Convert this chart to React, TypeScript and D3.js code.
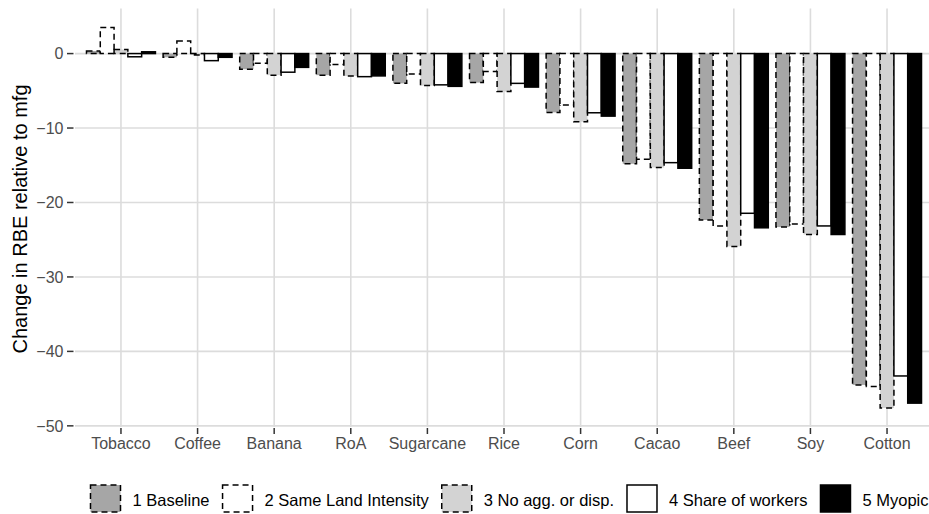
import React, { useRef, useEffect } from "react";
import { select, scaleBand, scaleLinear, min, max, range } from "d3";

// crops, in plot order
const categories = ["Tobacco", "Coffee", "Banana", "RoA", "Sugarcane", "Rice", "Corn", "Cacao", "Beef", "Soy", "Cotton"];
const seriesNames = ["1 Baseline", "2 Same Land Intensity", "3 No agg. or disp.", "4 Share of workers", "5 Myopic"];

// change in RBE relative to mfg
const baseline = [0.35, -0.5, -2.1, -2.9, -4.0, -3.9, -7.9, -14.8, -22.35, -23.3, -44.5];
const sameLand = [3.5, 1.7, -1.3, -1.45, -2.75, -2.4, -6.9, -14.2, -23.15, -22.9, -44.7];
const noAgg = [0.55, -0.2, -2.9, -3.0, -4.3, -5.1, -9.15, -15.3, -25.9, -24.3, -47.6];
const shareWorkers = [-0.43, -0.95, -2.5, -3.1, -4.2, -4.0, -7.95, -14.65, -21.45, -23.15, -43.3];
const myopic = [0.24, -0.5, -1.85, -3.0, -4.4, -4.5, -8.4, -15.4, -23.4, -24.3, -46.95];

const yTicks = [0, -10, -20, -30, -40, -50];

const fills = ["#a6a6a6", "#ffffff", "#d3d3d3", "#ffffff", "#000000"];
const dashed = [true, true, true, false, false];

const FONT = "'Liberation Sans', Arial, Helvetica, sans-serif";

const App = () => {
  const svgRef = useRef(null);

  useEffect(() => {
    const svg = select(svgRef.current);
    svg.selectAll("*").remove();

    const allSeries = [baseline, sameLand, noAgg, shareWorkers, myopic];
    const lo = Math.min(0, min(allSeries.flat()));
    const hi = Math.max(0, max(allSeries.flat()));
    const pad = (hi - lo) * 0.05;

    const panel = { left: 75, right: 933, top: 8.5, bottom: 427 };

    const x = scaleBand()
      .domain(categories)
      .range([panel.left, panel.right])
      .paddingInner(0.1)
      .paddingOuter(0.15);

    const xInner = scaleBand()
      .domain(range(seriesNames.length).map(String))
      .range([0, x.bandwidth()]);

    const y = scaleLinear()
      .domain([lo - pad, hi + pad])
      .range([panel.bottom, panel.top]);

    // grid
    const grid = svg.append("g");
    grid
      .selectAll("line.h")
      .data(yTicks)
      .join("line")
      .attr("class", "h")
      .attr("x1", panel.left)
      .attr("x2", panel.right)
      .attr("y1", (d) => y(d))
      .attr("y2", (d) => y(d))
      .attr("stroke", "#dcdcdc")
      .attr("stroke-width", 1.6);
    grid
      .selectAll("line.v")
      .data(categories)
      .join("line")
      .attr("class", "v")
      .attr("x1", (d) => x(d) + x.bandwidth() / 2)
      .attr("x2", (d) => x(d) + x.bandwidth() / 2)
      .attr("y1", panel.top)
      .attr("y2", panel.bottom)
      .attr("stroke", "#dcdcdc")
      .attr("stroke-width", 1.6);

    // bars, drawn category by category like ggplot dodge
    const bars = svg.append("g");
    categories.forEach((cat, ci) => {
      allSeries.forEach((vals, si) => {
        const v = vals[ci];
        bars
          .append("rect")
          .attr("x", x(cat) + xInner(String(si)))
          .attr("width", xInner.bandwidth())
          .attr("y", Math.min(y(0), y(v)))
          .attr("height", Math.abs(y(v) - y(0)))
          .attr("fill", fills[si])
          .attr("stroke", "#000")
          .attr("stroke-width", 1.5)
          .attr("stroke-dasharray", dashed[si] ? "6,4" : null);
      });
    });

    // y axis
    const yAxis = svg.append("g");
    yAxis
      .selectAll("line")
      .data(yTicks)
      .join("line")
      .attr("x1", 67)
      .attr("x2", 73.5)
      .attr("y1", (d) => y(d))
      .attr("y2", (d) => y(d))
      .attr("stroke", "#333")
      .attr("stroke-width", 1.5);
    yAxis
      .selectAll("text")
      .data(yTicks)
      .join("text")
      .attr("x", 63.5)
      .attr("y", (d) => y(d))
      .attr("dy", "0.36em")
      .attr("text-anchor", "end")
      .attr("fill", "#4d4d4d")
      .style("font-family", FONT)
      .style("font-size", "16px")
      .text((d) => (d < 0 ? "\u2212" + Math.abs(d) : String(d)));

    // x axis
    const xAxis = svg.append("g");
    xAxis
      .selectAll("line")
      .data(categories)
      .join("line")
      .attr("x1", (d) => x(d) + x.bandwidth() / 2)
      .attr("x2", (d) => x(d) + x.bandwidth() / 2)
      .attr("y1", panel.bottom + 1)
      .attr("y2", panel.bottom + 7)
      .attr("stroke", "#333")
      .attr("stroke-width", 1.5);
    xAxis
      .selectAll("text")
      .data(categories)
      .join("text")
      .attr("x", (d) => x(d) + x.bandwidth() / 2)
      .attr("y", 449)
      .attr("text-anchor", "middle")
      .attr("fill", "#4d4d4d")
      .style("font-family", FONT)
      .style("font-size", "16px")
      .text((d) => d);

    // y title
    svg
      .append("text")
      .attr("transform", "translate(27,219) rotate(-90)")
      .attr("text-anchor", "middle")
      .attr("fill", "#000")
      .style("font-family", FONT)
      .style("font-size", "20px")
      .text("Change in RBE relative to mfg");

    // legend, laid out from measured label widths
    const legend = svg.append("g");
    const keyW = 30;
    const keyH = 27;
    const keyGap = 12;
    const itemGap = 13;
    const labels = seriesNames.map((name) =>
      legend
        .append("text")
        .attr("y", 505.5)
        .attr("fill", "#000")
        .style("font-family", FONT)
        .style("font-size", "16.5px")
        .text(name)
    );
    const widths = labels.map((t) => t.node().getComputedTextLength());
    const total =
      widths.reduce((a, b) => a + b, 0) + seriesNames.length * (keyW + keyGap) + (seriesNames.length - 1) * itemGap;
    let cx = 509.5 - total / 2;
    seriesNames.forEach((name, i) => {
      legend
        .append("rect")
        .attr("x", cx)
        .attr("y", 485)
        .attr("width", keyW)
        .attr("height", keyH)
        .attr("fill", fills[i])
        .attr("stroke", "#000")
        .attr("stroke-width", 1.5)
        .attr("stroke-dasharray", dashed[i] ? "6,4" : null);
      labels[i].attr("x", cx + keyW + keyGap);
      cx += keyW + keyGap + widths[i] + itemGap;
    });
  }, []);

  return (
    <svg
      ref={svgRef}
      width={929}
      height={514}
      style={{ position: "absolute", left: 0, top: 0, display: "block", background: "#fff" }}
    />
  );
};

export default App;
